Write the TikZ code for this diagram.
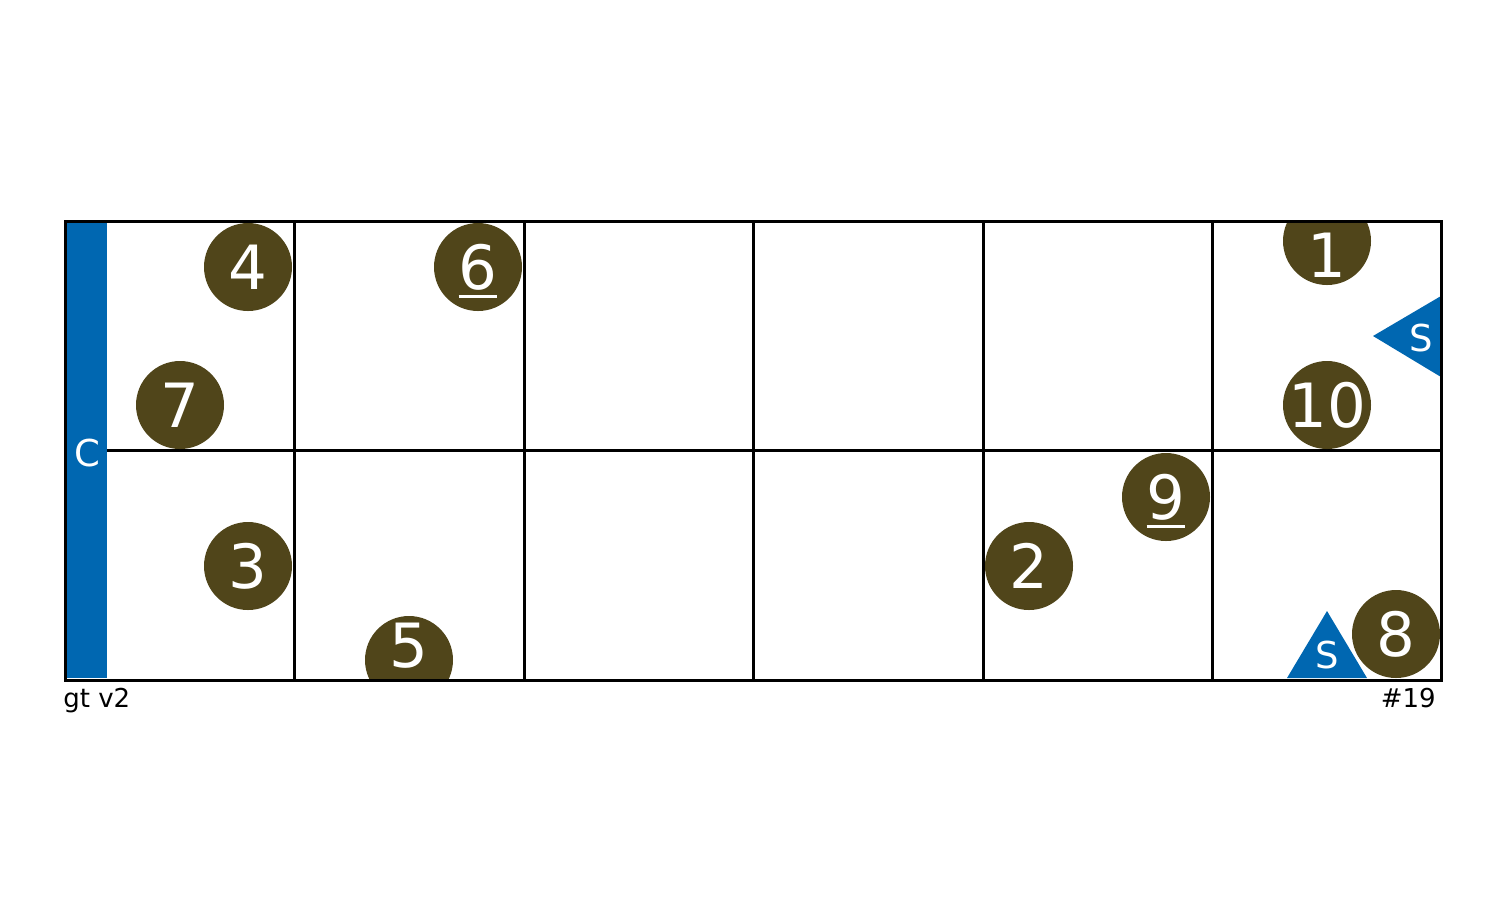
\documentclass[tikz,border=0pt]{standalone}
\usepackage{fontspec}
\setmainfont{DejaVu Sans}
\usetikzlibrary{positioning}
\definecolor{cbar}{RGB}{0,103,177}
\definecolor{ctok}{RGB}{80,69,26}
\newcommand\ulnum[1]{\setbox0\hbox{#1}\rlap{\smash{\rule[-4.5pt]{\wd0}{1.4pt}}}\box0}

\begin{document}
\begin{tikzpicture}[x=0.5pt,y=-0.5pt,
  token/.style={circle,fill=ctok,minimum size=44pt,inner sep=0pt,
               text=white,font=\fontsize{30.5}{30.5}\selectfont},
  num/.style={text=white,font=\fontsize{30.5}{30.5}\selectfont,inner sep=0pt},
  tag/.style={text=white,font=\fontsize{18.5}{18.5}\selectfont,inner sep=0pt},
  foot/.style={font=\fontsize{13}{13}\selectfont,inner sep=0pt},
  gridline/.style={line width=1.5pt}
]
\useasboundingbox (0,0) rectangle (1503,902);
% grid
\foreach \x in {294,524,753,983,1212}
  \draw[gridline] (\x,221) -- (\x,680);
\draw[gridline] (107,450) -- (1441,450);
% side bar
\fill[cbar] (67,223) rectangle (107,678);
\node[tag] (cl) at (87,453) {C};
% tokens
\node[token] (t4) at (248,267) {4};
\node[token] (t6) at (478,267) {\ulnum{6}};
\node[token] (t7) at (180,405) {7};
\node[token] (t3) at (248,566) {3};
\node[token] (t2) at (1029,566) {2};
\node[token] (t9) at (1166,497) {\ulnum{9}};
\node[token] (t10) at (1327,405) {};
\node[num] (n10) at (t10) {10};
\node[token] (t8) at (1396,634) {8};
\begin{scope}
  \clip (67,223) rectangle (1439,678);
  \node[token] (t1) at (1327,241) {};
  \node[token] (t5) at (409,660) {};
\end{scope}
\node[num] (n1) at (1327,255) {1};
\node[num] (n5) at (409,646) {5};
% markers
\fill[cbar] (1441,296) -- (1373,336) -- (1441,377) -- cycle;
\node[tag] (s1) at (1421,338) {S};
\fill[cbar] (1287,678) -- (1327,611) -- (1367,678) -- cycle;
\node[tag] (s2) at (1327,655) {S};
% frame
\draw[gridline] (65,221) rectangle (1441,680);
\node[foot,anchor=base west] (gt) at (63,707) {gt v2};
\node[foot,anchor=base east] (nr) at (1436,707) {\#19};
\end{tikzpicture}
\end{document}
